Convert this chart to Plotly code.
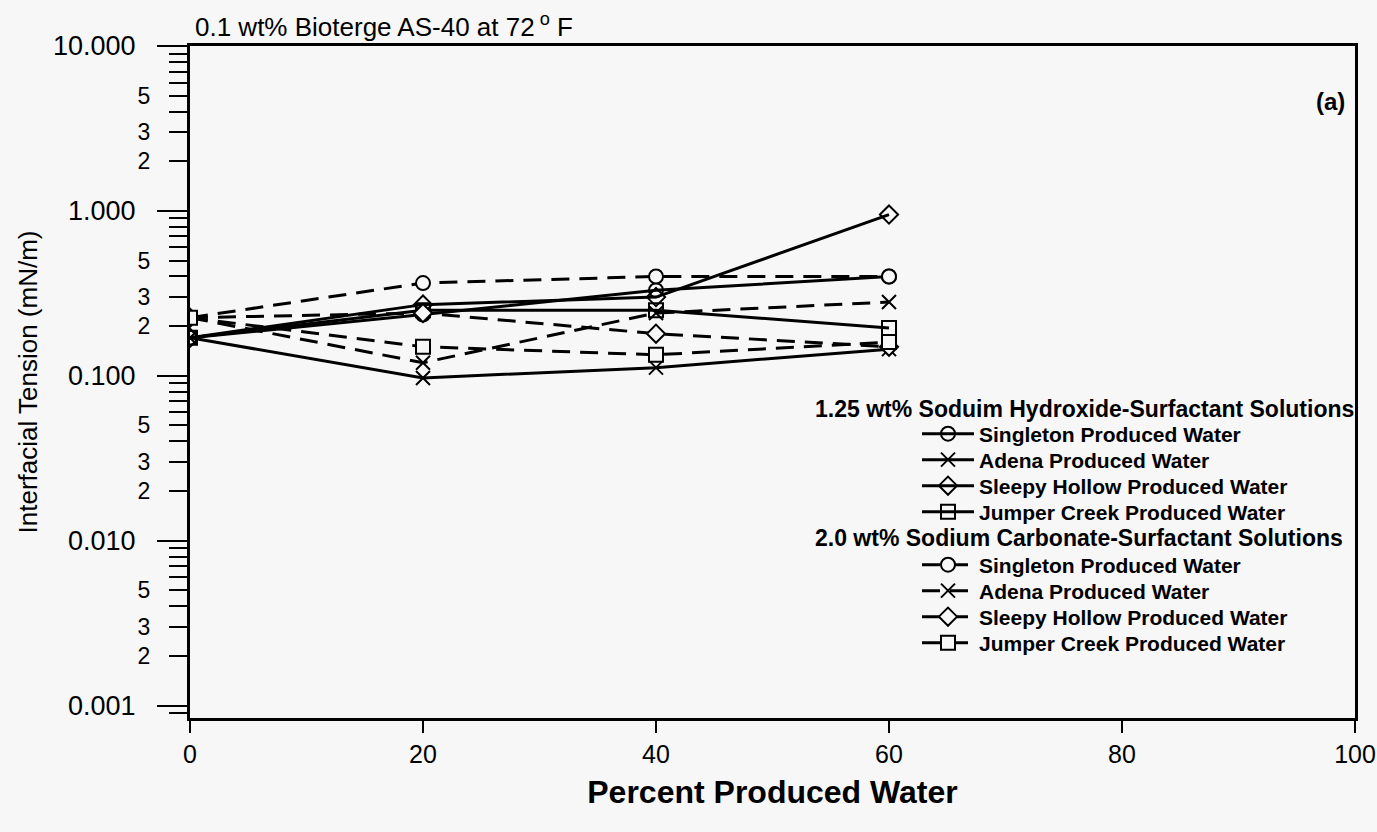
import plotly.graph_objects as go
import math

# ---- data ----
pct = [0, 20, 40, 60]
naoh_singleton = [0.17, 0.235, 0.33, 0.40]
naoh_adena = [0.17, 0.097, 0.112, 0.145]
naoh_sleepy = [0.17, 0.27, 0.30, 0.95]
naoh_jumper = [0.17, 0.25, 0.25, 0.195]
na2co3_singleton = [0.225, 0.365, 0.40, 0.40]
na2co3_adena = [0.225, 0.12, 0.24, 0.28]
na2co3_sleepy = [0.225, 0.24, 0.18, 0.15]
na2co3_jumper = [0.225, 0.15, 0.134, 0.16]

series_names = ["Singleton Produced Water", "Adena Produced Water",
                "Sleepy Hollow Produced Water", "Jumper Creek Produced Water"]
group_titles = ["1.25 wt% Soduim Hydroxide-Surfactant Solutions",
                "2.0 wt% Sodium Carbonate-Surfactant Solutions"]
x_tick_vals = [0, 20, 40, 60, 80, 100]
decade_vals = [0.001, 0.01, 0.1, 1, 10]
decade_labels = ["0.001", "0.010", "0.100", "1.000", "10.000"]
minor_label_mult = {2: "2", 3: "3", 5: "5"}

BG = "#f7f7f7"
FONT = "Liberation Sans, Arial, sans-serif"
symbols = ["circle", "x-thin", "diamond", "square"]

# plot area in pixels (for placing legend rows / annotations)
W, H = 1377, 832
ML, MR, MT, MB = 190, 22, 46, 114
PW, PH = W - ML - MR, H - MT - MB


def px_x(px):
    return (px - ML) / PW


def px_y(py):
    return 1 - (py - MT) / PH


legend_rows_px = [434, 460, 486, 512, 565, 591, 617, 643]
group_title_rows_px = [409, 538]

fig = go.Figure()

naoh = [naoh_singleton, naoh_adena, naoh_sleepy, naoh_jumper]
na2co3 = [na2co3_singleton, na2co3_adena, na2co3_sleepy, na2co3_jumper]

legend_ids = ["legend"] + ["legend%d" % i for i in range(2, 9)]
k = 0
for name, ys, sym in zip(series_names, naoh, symbols):
    fig.add_trace(go.Scatter(
        x=pct, y=ys, name=name, mode="lines+markers", legend=legend_ids[k],
        line=dict(color="black", width=3),
        marker=dict(symbol=sym + "-open", size=14, color="black",
                    line=dict(color="black", width=2)),
    ))
    k += 1
for name, ys, sym in zip(series_names, na2co3, symbols):
    fig.add_trace(go.Scatter(
        x=pct, y=ys, name=name, mode="lines+markers", legend=legend_ids[k],
        line=dict(color="black", width=3, dash="18px,10px"),
        marker=dict(symbol=sym, size=14, color=BG,
                    line=dict(color="black", width=2)),
    ))
    k += 1

# minor tick positions on the log axis
minor_vals, minor_text = [], []
for d in [0.0001, 0.001, 0.01, 0.1, 1]:
    for m in range(2, 10):
        v = m * d
        if v < 0.00085:
            continue
        minor_vals.append(v)
        minor_text.append(minor_label_mult.get(m, " ") if v > 0.00095 else " ")

yrange = [math.log10(0.00084), 1]

legend_layout = {}
for lid, row in zip(legend_ids, legend_rows_px):
    legend_layout[lid] = dict(
        x=px_x(917), y=px_y(row), xanchor="left", yanchor="middle",
        bgcolor="rgba(0,0,0,0)", borderwidth=0,
        font=dict(size=21, family=FONT, weight="bold"), itemwidth=52)

fig.update_layout(
    width=W, height=H,
    paper_bgcolor=BG, plot_bgcolor=BG,
    margin=dict(l=ML, r=MR, t=MT, b=MB, autoexpand=False),
    font=dict(family=FONT, color="black"),
    showlegend=True,
    xaxis=dict(range=[0, 100], tickvals=x_tick_vals, ticks="outside", ticklen=12,
               tickwidth=2, tickcolor="black", showline=True, linecolor="black",
               linewidth=3, mirror=True, showgrid=False, zeroline=False,
               ticklabeloverflow="allow", automargin=False,
               tickfont=dict(size=25, family=FONT),
               title=dict(text="<b>Percent Produced Water</b>", font=dict(size=32, family=FONT), standoff=14)),
    yaxis=dict(type="log", range=yrange, tickvals=decade_vals, ticktext=decade_labels,
               ticks="outside", ticklen=30, tickwidth=2, tickcolor="black",
               showline=True, linecolor="black", linewidth=3, mirror=True,
               showgrid=False, zeroline=False, ticklabelstandoff=16, automargin=False,
               tickfont=dict(size=27, family=FONT),
               title=dict(text="Interfacial Tension (mN/m)", font=dict(size=26, family=FONT), standoff=8)),
    yaxis2=dict(type="log", range=yrange, overlaying="y", anchor="x", side="left",
                tickvals=minor_vals, ticktext=minor_text, ticks="outside", ticklen=20,
                tickwidth=2, tickcolor="black", showline=False, showgrid=False,
                zeroline=False, ticklabelstandoff=14, automargin=False,
                tickfont=dict(size=23, family=FONT)),
    annotations=[
        dict(text="0.1 wt% Bioterge AS-40 at 72<sup> o</sup> F", xref="paper", yref="paper",
             x=px_x(193), y=px_y(25), xanchor="left", yanchor="middle", showarrow=False,
             font=dict(size=26, family=FONT)),
        dict(text="<b>(a)</b>", xref="paper", yref="paper", x=px_x(1330), y=px_y(101),
             xanchor="center", yanchor="middle", showarrow=False, font=dict(size=24, family=FONT)),
        dict(text="<b>" + group_titles[0] + "</b>", xref="paper", yref="paper",
             x=px_x(813), y=px_y(group_title_rows_px[0]),
             xanchor="left", yanchor="middle", showarrow=False, font=dict(size=23, family=FONT)),
        dict(text="<b>" + group_titles[1] + "</b>", xref="paper", yref="paper",
             x=px_x(813), y=px_y(group_title_rows_px[1]),
             xanchor="left", yanchor="middle", showarrow=False, font=dict(size=23, family=FONT)),
    ],
    **legend_layout,
)
# invisible trace to activate yaxis2 ticks
fig.add_trace(go.Scatter(x=[None], y=[None], yaxis="y2", showlegend=False, hoverinfo="skip"))

fig.write_html("out.html")
